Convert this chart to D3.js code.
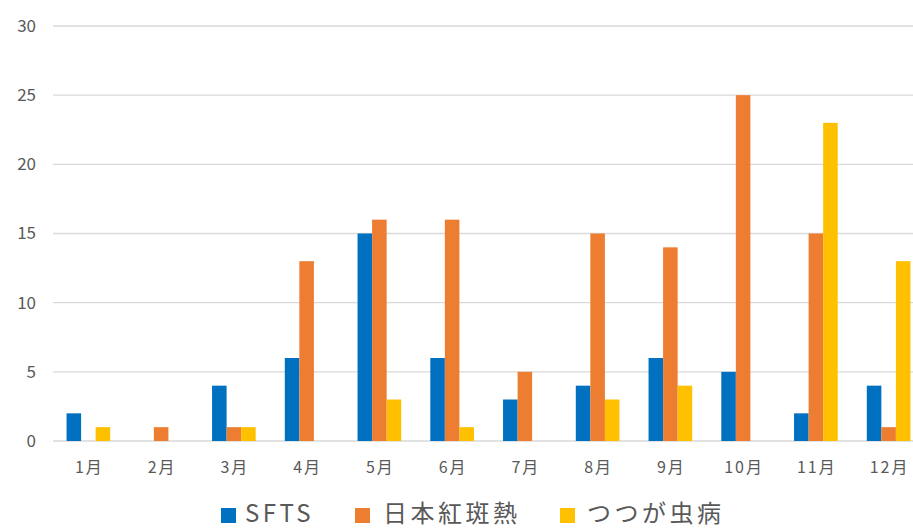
<!DOCTYPE html>
<html>
<head>
<meta charset="utf-8">
<script src="https://cdn.jsdelivr.net/npm/d3@7"></script>
<style>
  body { margin: 0; background: #fff; }
  svg { display: block; font-family: "Noto Sans CJK JP", "Noto Sans", sans-serif; }
</style>
</head>
<body>
<svg id="canvas" width="913" height="529"></svg>
<script>
let months = ['1月', '2月', '3月', '4月', '5月', '6月', '7月', '8月', '9月', '10月', '11月', '12月']
let seriesNames = ['SFTS', '日本紅斑熱', 'つつが虫病']
let sfts = [2, 0, 4, 6, 15, 6, 3, 4, 6, 5, 2, 4]
let jsf = [0, 1, 1, 13, 16, 16, 5, 15, 14, 25, 15, 1]
let tsutsugamushi = [1, 0, 1, 0, 3, 1, 0, 3, 4, 0, 23, 13]
let yTicks = [0, 5, 10, 15, 20, 25, 30]
let colors = ['#0070C0', '#ED7D31', '#FFC000']

let seriesValues = [sfts, jsf, tsutsugamushi]

let canvas = d3.select('#canvas')

// plot runs off the right edge like the original screenshot
let x0 = d3.scaleBand()
            .domain(months)
            .range([52, 925])
            .paddingInner(0.4)
            .paddingOuter(0.2)

let x1 = d3.scaleBand()
            .domain(seriesNames)
            .range([0, x0.bandwidth()])

let y = d3.scaleLinear()
            .domain([0, 30])
            .range([441, 26])

// grid lines
canvas.append('g')
    .selectAll('line')
    .data(yTicks)
    .enter()
    .append('line')
    .attr('x1', 53)
    .attr('x2', 913)
    .attr('y1', (d) => y(d))
    .attr('y2', (d) => y(d))
    .attr('stroke', '#d9d9d9')
    .attr('stroke-width', 1.3)

// y labels
canvas.append('g')
    .selectAll('text')
    .data(yTicks)
    .enter()
    .append('text')
    .attr('x', 36)
    .attr('y', (d) => y(d))
    .attr('dy', '0.35em')
    .attr('text-anchor', 'end')
    .attr('fill', '#595959')
    .style('font-size', '17px')
    .text((d) => d)

// bars
let groups = canvas.append('g')
    .selectAll('g')
    .data(months)
    .enter()
    .append('g')
    .attr('transform', (m) => 'translate(' + x0(m) + ',0)')

groups.selectAll('rect')
    .data((m, i) => seriesNames.map((s, j) => ({ name: s, value: seriesValues[j][i], color: colors[j] })))
    .enter()
    .append('rect')
    .attr('x', (d) => x1(d.name))
    .attr('y', (d) => y(d.value))
    .attr('width', x1.bandwidth())
    .attr('height', (d) => y(0) - y(d.value))
    .attr('fill', (d) => d.color)

// x labels
canvas.append('g')
    .selectAll('text')
    .data(months)
    .enter()
    .append('text')
    .attr('x', (m) => x0(m) + x0.bandwidth() / 2 + 1)
    .attr('y', 467)
    .attr('dy', '0.35em')
    .attr('text-anchor', 'middle')
    .attr('fill', '#595959')
    .style('font-size', '16px')
    .style('letter-spacing', '2px')
    .text((m) => m)

// legend
let legendX = [221, 355, 560]
let legendTextX = [24, 28, 27]
let legend = canvas.append('g')
    .selectAll('g')
    .data(seriesNames)
    .enter()
    .append('g')
    .attr('transform', (s, i) => 'translate(' + legendX[i] + ',508)')

legend.append('rect')
    .attr('x', 0)
    .attr('y', 0)
    .attr('width', 15)
    .attr('height', 15)
    .attr('fill', (s, i) => colors[i])

legend.append('text')
    .attr('x', (s, i) => legendTextX[i])
    .attr('y', 14)
    .attr('fill', '#595959')
    .style('font-size', '24px')
    .style('letter-spacing', '3.5px')
    .text((s) => s)
</script>
</body>
</html>
